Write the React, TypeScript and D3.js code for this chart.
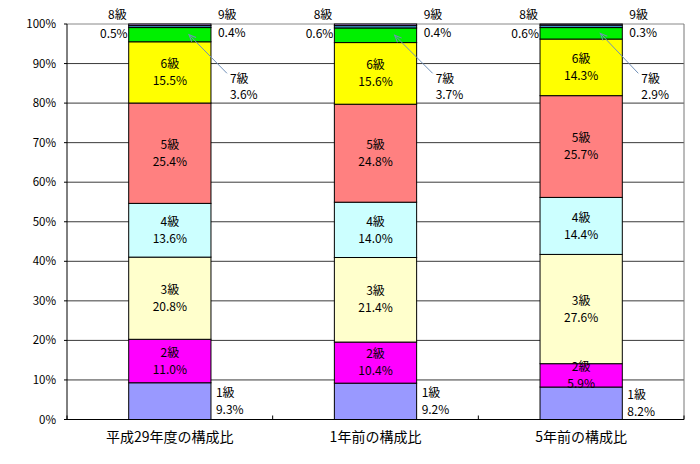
import * as d3 from 'd3'

const categories = ['平成29年度の構成比', '1年前の構成比', '5年前の構成比']
const grades = ['1級', '2級', '3級', '4級', '5級', '6級', '7級', '8級', '9級']
const h29 = [9.3, 11.0, 20.8, 13.6, 25.4, 15.5, 3.6, 0.5, 0.4]
const oneYearAgo = [9.2, 10.4, 21.4, 14.0, 24.8, 15.6, 3.7, 0.6, 0.4]
const fiveYearsAgo = [8.2, 5.9, 27.6, 14.4, 25.7, 14.3, 2.9, 0.6, 0.3]
const yTicks = [0, 0.1, 0.2, 0.3, 0.4, 0.5, 0.6, 0.7, 0.8, 0.9, 1]
const colors = ['#9999FF', '#FF00FF', '#FFFFCC', '#CCFFFF', '#FF8080', '#FFFF00', '#00F000', '#3F95C8', '#CC99FF']

const W = 700
const H = 464
const margin = { top: 24, right: 16, bottom: 44.5, left: 67 }
const font = '"Noto Sans CJK JP", "Noto Sans", sans-serif'

export default function App() {
  const series = [h29, oneYearAgo, fiveYearsAgo]
  const rows = categories.map((c, i) => {
    const r: Record<string, any> = { cat: c }
    grades.forEach((g, j) => (r[g] = series[i][j]))
    return r
  })
  // 100% stacked: normalise each bar
  const stacked = d3.stack<any>().keys(grades).offset(d3.stackOffsetExpand)(rows)

  const x = d3
    .scaleBand()
    .domain(categories)
    .range([margin.left, W - margin.right])
    .paddingInner(0.6)
    .paddingOuter(0.3)
  const y = d3.scaleLinear().domain([0, 1]).range([H - margin.bottom, margin.top])
  const step = x.step()
  const bw = x.bandwidth()
  const left = margin.left
  const right = W - margin.right
  const bottom = H - margin.bottom

  const ts = { fontFamily: font, fontSize: 12, fill: '#000' }

  return (
    <svg width={W} height={H} style={{ position: 'absolute', left: 0, top: 0, background: '#fff' }}>
      {/* gridlines */}
      {yTicks.slice(1, -1).map((t) => (
        <line key={t} x1={left} x2={right} y1={y(t)} y2={y(t)} stroke="#3a3a3a" strokeWidth={1} />
      ))}
      {/* frame */}
      <line x1={left} x2={right} y1={y(1)} y2={y(1)} stroke="#888" />
      <line x1={right} x2={right} y1={y(1)} y2={bottom} stroke="#777" />

      {/* bars */}
      {stacked.map((layer, j) =>
        layer.map((d, i) => (
          <rect
            key={`${j}-${i}`}
            x={x(categories[i])}
            y={y(d[1])}
            width={bw}
            height={Math.max(0, y(d[0]) - y(d[1]))}
            fill={colors[j]}
            stroke="#000"
            strokeWidth={1}
          />
        ))
      )}

      {/* axes */}
      <line x1={left} x2={left} y1={y(1)} y2={bottom} stroke="#000" />
      <line x1={left} x2={right} y1={bottom} y2={bottom} stroke="#000" />
      {yTicks.map((t) => (
        <g key={t}>
          <line x1={left - 3} x2={left} y1={y(t)} y2={y(t)} stroke="#000" />
          <text x={left - 11} y={y(t)} dy="0.35em" textAnchor="end" fontFamily={font} fontSize={11.5} fill="#000">
            {`${Math.round(t * 100)}%`}
          </text>
        </g>
      ))}
      {d3.range(categories.length + 1).map((k) => (
        <line key={k} x1={left + k * step} x2={left + k * step} y1={bottom - 4} y2={bottom} stroke="#000" />
      ))}
      {categories.map((c) => (
        <text
          key={c}
          x={(x(c) as number) + bw / 2}
          y={bottom + 18}
          dy="0.35em"
          textAnchor="middle"
          fontFamily={font}
          fontSize={14}
          fill="#000"
        >
          {c}
        </text>
      ))}

      {/* data labels */}
      {categories.map((c, i) => {
        const bx = x(c) as number
        const cx = bx + bw / 2
        return (
          <g key={c}>
            {stacked.map((layer, j) => {
              const d = layer[i]
              const mid = (y(d[0]) + y(d[1])) / 2
              const val = `${series[i][j].toFixed(1)}%`
              if (j >= 1 && j <= 5) {
                return (
                  <g key={j}>
                    <text x={cx} y={mid - 8.5} dy="0.35em" textAnchor="middle" {...ts}>{grades[j]}</text>
                    <text x={cx} y={mid + 8.5} dy="0.35em" textAnchor="middle" {...ts}>{val}</text>
                  </g>
                )
              }
              if (j === 0) {
                return (
                  <g key={j}>
                    <text x={bx + bw + 5} y={mid - 8.5} dy="0.35em" {...ts}>{grades[j]}</text>
                    <text x={bx + bw + 5} y={mid + 8.5} dy="0.35em" {...ts}>{val}</text>
                  </g>
                )
              }
              if (j === 6) {
                const ly = y(0.85)
                const ax = bx + bw - 22
                const ang = (Math.atan2(ly - 10 - mid, 38) * 180) / Math.PI
                return (
                  <g key={j}>
                    <line x1={bx + bw + 16} y1={ly - 10} x2={ax} y2={mid} stroke="#7090B8" strokeWidth={1} />
                    <path
                      d="M7,-3 L0,0 L7,3"
                      fill="none"
                      stroke="#7090B8"
                      strokeWidth={1}
                      transform={`translate(${ax},${mid}) rotate(${ang})`}
                    />
                    <text x={bx + bw + 19} y={ly - 5} dy="0.35em" {...ts}>{grades[j]}</text>
                    <text x={bx + bw + 19} y={ly + 11} dy="0.35em" {...ts}>{val}</text>
                  </g>
                )
              }
              if (j === 7) {
                return (
                  <g key={j}>
                    <text x={bx - 2} y={y(1) - 9} dy="0.35em" textAnchor="end" {...ts}>{grades[j]}</text>
                    <text x={bx - 1} y={y(1) + 10} dy="0.35em" textAnchor="end" {...ts}>{val}</text>
                  </g>
                )
              }
              return (
                <g key={j}>
                  <text x={bx + bw + 7} y={y(1) - 9} dy="0.35em" {...ts}>{grades[j]}</text>
                  <text x={bx + bw + 7} y={y(1) + 9} dy="0.35em" {...ts}>{val}</text>
                </g>
              )
            })}
          </g>
        )
      })}
    </svg>
  )
}
